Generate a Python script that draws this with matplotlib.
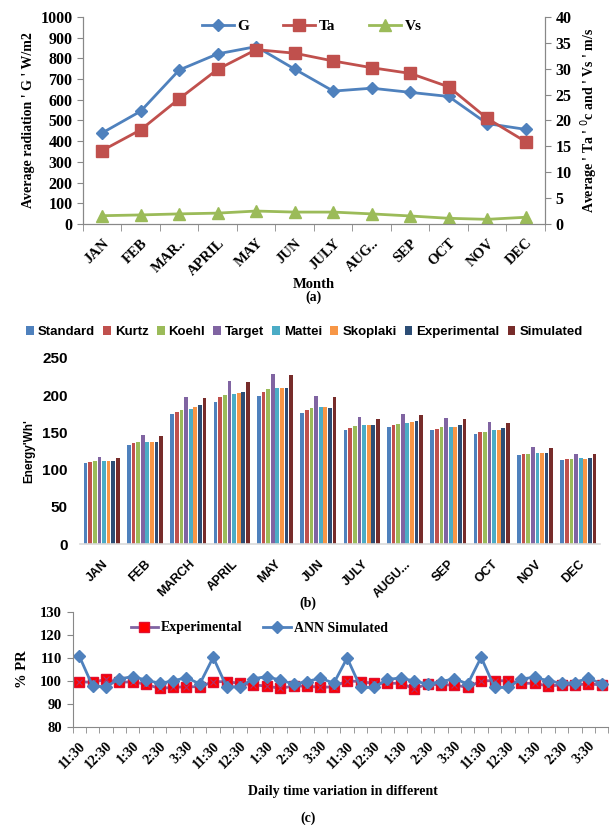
import matplotlib
matplotlib.use("Agg")
import matplotlib.pyplot as plt
import numpy as np

# (a) monthly weather
months_a = ["JAN", "FEB", "MAR..", "APRIL", "MAY", "JUN", "JULY", "AUG..", "SEP", "OCT", "NOV", "DEC"]
G = [440, 545, 744, 822, 857, 748, 642, 656, 636, 616, 485, 457]
Ta = [14.2, 18.2, 24.2, 29.9, 33.7, 33.0, 31.5, 30.2, 29.1, 26.5, 20.4, 15.9]
Vs = [1.6, 1.75, 1.95, 2.1, 2.5, 2.3, 2.3, 1.95, 1.55, 1.1, 0.9, 1.3]

# (b) monthly energy per model
months_b = ["JAN", "FEB", "MARCH", "APRIL", "MAY", "JUN", "JULY", "AUGU...", "SEP", "OCT", "NOV", "DEC"]
models = ["Standard", "Kurtz", "Koehl", "Target", "Mattei", "Skoplaki", "Experimental", "Simulated"]
standard = [109, 133, 175, 191, 199, 176, 153.5, 157, 152.6, 147.7, 120, 113]
kurtz = [110.5, 135.5, 178, 197, 204.7, 179.5, 156, 160, 155, 150, 121, 114]
koehl = [112, 136.5, 180, 200, 208, 183, 158.4, 161.6, 157, 151, 121, 114]
target = [117, 146, 197.5, 219.5, 229, 199, 170.6, 175, 169, 164, 130, 121]
mattei = [112, 137, 182, 201, 209.6, 184.5, 159.3, 163, 157, 152.6, 122, 115]
skoplaki = [112, 137.5, 183.5, 203, 210, 184.5, 159.3, 164, 157, 152.6, 122, 114.5]
experimental_b = [112, 137.5, 186.7, 204.7, 209.6, 183, 159.8, 165, 159.8, 156, 122, 115]
simulated_b = [116, 144.5, 196, 218, 227, 197, 168, 173.7, 168, 163, 129, 121]

# (c) daily PR
times = ["11:30", "12:00", "12:30", "1:00", "1:30", "2:00", "2:30", "3:00", "3:30", "4:00"] * 4
pr_exp = [99.7, 99.4, 100.7, 99.4, 99.7, 98.5, 96.8, 97.2, 97.5, 97.5,
          99.7, 99.7, 99.0, 98.3, 97.8, 96.8, 97.8, 97.8, 97.2, 97.5,
          100.1, 99.7, 99.0, 99.0, 99.0, 96.6, 98.7, 98.3, 98.3, 97.2,
          100.1, 100.1, 100.1, 99.0, 99.0, 97.8, 98.3, 98.3, 98.7, 98.3]
pr_ann = [110.9, 97.8, 97.5, 100.9, 101.9, 100.4, 99.0, 100.0, 101.5, 98.7,
          110.3, 97.5, 97.5, 101.0, 101.9, 100.4, 98.7, 99.7, 101.3, 99.0,
          110.0, 97.2, 97.2, 100.7, 101.3, 100.0, 98.7, 99.7, 101.0, 98.7,
          110.3, 97.2, 97.2, 100.9, 101.6, 100.1, 99.0, 99.3, 101.3, 98.7]

serif = "Liberation Serif"
sans = "Liberation Sans"
blue, red, green = "#4F81BD", "#C0504D", "#9BBB59"
bar_colors = ["#4F81BD", "#C0504D", "#9BBB59", "#8064A2", "#4BACC6", "#F79646", "#2C4D75", "#772C2A"]
gray = "#888888"


def style_ticks(axis, labels, family, size):
    for t in labels:
        t.set_fontfamily(family)
        t.set_fontweight("bold")
        t.set_fontsize(size)


fig = plt.figure(figsize=(6.16, 8.25), dpi=100)

# ---------- (a)
ax = fig.add_axes([0.1347, 0.7285, 0.75, 0.2509])
ax2 = ax.twinx()
x = np.arange(len(months_a))
l1, = ax.plot(x, G, color=blue, lw=2, marker="D", ms=6, label="G")
l2, = ax2.plot(x, Ta, color=red, lw=2, marker="s", ms=8, label="Ta")
l3, = ax2.plot(x, Vs, color=green, lw=2, marker="^", ms=8, label="Vs")
ax.set_ylim(0, 1000)
ax2.set_ylim(0, 40)
ax.set_xlim(-0.5, len(months_a) - 0.5)
ax.set_yticks(np.arange(0, 1001, 100))
ax2.set_yticks(np.arange(0, 41, 5))
ax.set_xticks(x)
ax.set_xticklabels(months_a, rotation=45, ha="right", va="top", rotation_mode="anchor")
ax.set_xticks(np.arange(-0.5, len(months_a)), minor=True)
ax.tick_params(axis="x", which="major", length=0, pad=9)
ax.tick_params(axis="x", which="minor", length=5, color=gray)
ax.tick_params(axis="y", length=4, color=gray)
ax2.tick_params(axis="y", length=4, color=gray)
for a in (ax, ax2):
    a.spines["top"].set_visible(False)
    for s in a.spines.values():
        s.set_color(gray)
    style_ticks(a, a.get_yticklabels(), serif, 11.5)
style_ticks(ax, ax.get_xticklabels(), serif, 10.5)
ax.set_ylabel("Average radiation ' G ' W/m2", fontfamily=serif, fontweight="bold", fontsize=10, labelpad=4)
ax2.set_ylabel("Average ' Ta ' $^{0}$c and ' Vs ' m/s", fontfamily=serif, fontweight="bold", fontsize=10, labelpad=5)
ax.legend([l1, l2, l3], ["G", "Ta", "Vs"], loc="center", ncol=3, frameon=False,
          bbox_to_anchor=(0.495, 0.955), columnspacing=2.2, handlelength=2.1, handletextpad=0.25,
          prop={"family": serif, "weight": "bold", "size": 11})
fig.text(314 / 616, 1 - 284 / 825, "Month", ha="center", va="center", fontfamily=serif, fontweight="bold", fontsize=10.5)
fig.text(314 / 616, 1 - 297 / 825, "(a)", ha="center", va="center", fontfamily=serif, fontweight="bold", fontsize=10)

# ---------- (b)
bx = fig.add_axes([0.1299, 0.3406, 0.8442, 0.2255])
series = [standard, kurtz, koehl, target, mattei, skoplaki, experimental_b, simulated_b]
xb = np.arange(len(months_b))
w = 0.107
for i, (name, vals) in enumerate(zip(models, series)):
    bx.bar(xb + (i - 3.5) * w, vals, width=w * 0.8, color=bar_colors[i],
           linewidth=0, label=name)
bx.set_ylim(0, 250)
bx.set_xlim(-0.5, len(months_b) - 0.5)
bx.set_yticks(np.arange(0, 251, 50))
bx.set_xticks(xb)
bx.set_xticklabels(months_b, rotation=45, ha="right", va="top", rotation_mode="anchor")
bx.tick_params(axis="both", length=0)
bx.tick_params(axis="x", pad=10)
bx.tick_params(axis="y", pad=9)
for s in ["top", "right", "left"]:
    bx.spines[s].set_visible(False)
bx.spines["bottom"].set_color("#d9d9d9")
bx.spines["bottom"].set_linewidth(1.2)
style_ticks(bx, bx.get_yticklabels(), sans, 11)
style_ticks(bx, bx.get_xticklabels(), sans, 9)
bx.set_ylabel("Energy'Wh'", fontfamily=sans, fontweight="bold", fontsize=8.5, labelpad=5)
bx.legend(loc="center", bbox_to_anchor=(304.5 / 616, 1 - 332 / 825), bbox_transform=fig.transFigure,
          ncol=8, frameon=False, handlelength=0.6, handleheight=0.6, handletextpad=0.3, columnspacing=0.6,
          prop={"family": sans, "weight": "bold", "size": 9.5})
fig.text(308 / 616, 1 - 603 / 825, "(b)", ha="center", va="center", fontfamily=serif, fontweight="bold", fontsize=10)

# ---------- (c)
cx = fig.add_axes([0.1177, 0.1188, 0.870, 0.1394])
xc = np.arange(len(times))
le, = cx.plot(xc, pr_exp, color="#8064A2", lw=2, marker="s", ms=7.5,
              mfc="#FF0000", mec="#E0102F", label="Experimental")
cx.plot(xc, pr_exp, ls="none", marker="x", ms=5, mec="#B0306A", mew=0.8)
la, = cx.plot(xc, pr_ann, color=blue, lw=2, marker="D", ms=6.5, label="ANN Simulated")
cx.set_ylim(80, 130)
cx.set_xlim(-0.5, len(times) - 0.5)
cx.set_yticks(np.arange(80, 131, 10))
cx.set_xticks(xc[::2])
cx.set_xticklabels(times[::2], rotation=45, ha="right", va="top", rotation_mode="anchor")
cx.set_xticks(np.arange(-0.5, len(times)), minor=True)
cx.tick_params(axis="x", which="major", length=0, pad=9)
cx.tick_params(axis="x", which="minor", length=4, color=gray)
cx.tick_params(axis="y", length=4, color=gray)
for s in ["top", "right"]:
    cx.spines[s].set_visible(False)
for s in ["left", "bottom"]:
    cx.spines[s].set_color(gray)
style_ticks(cx, cx.get_yticklabels(), serif, 10.5)
style_ticks(cx, cx.get_xticklabels(), serif, 10)
cx.set_ylabel("% PR", fontfamily=serif, fontweight="bold", fontsize=10.5, labelpad=8)
cx.legend([le, la], ["Experimental", "ANN Simulated"], loc="center left", ncol=2, frameon=False,
          bbox_to_anchor=(118 / 616, 1 - 628 / 825), bbox_transform=fig.transFigure,
          handlelength=2.0, handletextpad=0.2, columnspacing=1.5,
          prop={"family": serif, "weight": "bold", "size": 10})
fig.text(343 / 616, 1 - 791 / 825, "Daily time variation in different", ha="center", va="center",
         fontfamily=serif, fontweight="bold", fontsize=10)
fig.text(308 / 616, 1 - 818 / 825, "(c)", ha="center", va="center", fontfamily=serif, fontweight="bold", fontsize=10)

fig.savefig("out.png", dpi=100)
